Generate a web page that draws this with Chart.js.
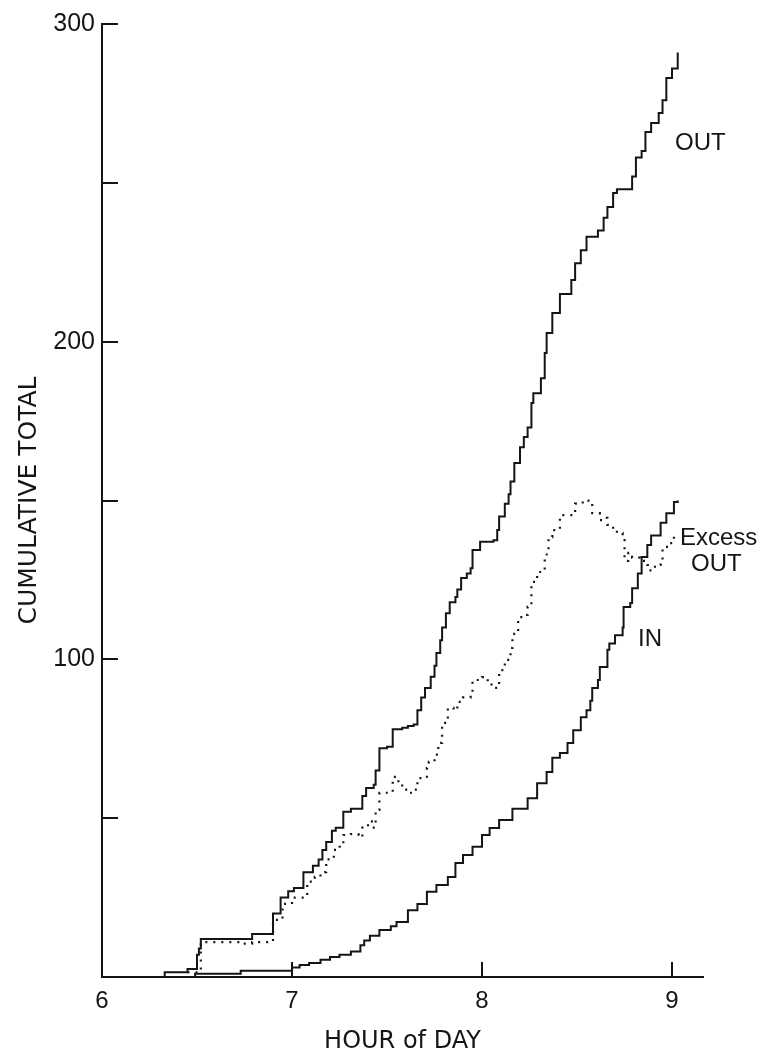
<!DOCTYPE html>
<html><head><meta charset="utf-8">
<script src="https://cdn.jsdelivr.net/npm/chart.js@4.4.0/dist/chart.umd.min.js"></script>
<style>html,body{margin:0;padding:0;background:#fff;}canvas{display:block;}</style>
</head><body>
<canvas id="c" width="764" height="1054"></canvas>
<script>
// ---- data (hour of day, cumulative total) ----
const xTickValues = [6, 7, 8, 9];
const xTickLabels = ['6', '7', '8', '9'];
const yTickValues = [100, 200, 300];
const yTickLabels = ['100', '200', '300'];
const yMinorTicks = [50, 100, 150, 200, 250, 300];

const outT = [6.00,6.33,6.45,6.50,6.51,6.52,6.79,6.90,6.94,6.98,7.01,7.06,7.11,7.14,7.16,7.18,7.21,7.23,7.27,7.31,7.37,7.39,7.43,7.44,7.46,7.50,7.53,7.58,7.61,7.64,7.66,7.68,7.70,7.73,7.75,7.76,7.78,7.79,7.81,7.83,7.86,7.87,7.89,7.92,7.94,7.95,7.99,8.06,8.08,8.09,8.12,8.14,8.15,8.17,8.20,8.22,8.24,8.26,8.27,8.31,8.33,8.34,8.37,8.41,8.47,8.49,8.52,8.55,8.61,8.64,8.66,8.69,8.71,8.79,8.81,8.84,8.86,8.89,8.93,8.95,8.97,9.00,9.03];
const outV = [0,1.5,2.5,7,9,12,13.5,20,25,27,28,33,35,37,40,42.5,46,47,52,53,57,59.5,60.5,65,72,72.5,78,78.5,79,79.5,84,88,91,94.5,98,102,106,110,114.5,118,119.6,122,125.6,127,128.7,134.4,137,137.5,140.7,145,149,152,156,161.8,166.8,170,173,180.7,183.8,188.5,196.4,202.7,209,215,219.4,224.7,228.8,233,235,239,242.4,246.8,248,252,258,260,266,268.8,272,276,283,286,291];

const inT = [6.00,6.49,6.73,7.00,7.04,7.09,7.15,7.20,7.25,7.31,7.36,7.38,7.41,7.46,7.52,7.55,7.61,7.66,7.71,7.76,7.82,7.86,7.90,7.95,8.00,8.04,8.09,8.16,8.24,8.29,8.34,8.37,8.41,8.45,8.48,8.52,8.55,8.57,8.58,8.61,8.62,8.66,8.67,8.70,8.74,8.745,8.78,8.79,8.82,8.84,8.87,8.89,8.94,8.97,9.01,9.03];
const inV = [0,1,2,3,3.8,4.4,5.4,6.3,7,8,10,11.5,13,14.8,16,17.3,21,23,26.8,29,31.5,35.9,38.4,41,44.7,46.9,49.4,53,56.3,61,64.5,69,70.5,73.7,77.7,81.8,84,87,91,93.5,97.6,103,105,107.6,110,116.5,117.7,122.4,127,132.2,136,139,143,146,149.5,150];

const excessT = [6.45,6.52,6.73,6.79,6.90,6.95,7.00,7.04,7.08,7.12,7.15,7.18,7.22,7.25,7.27,7.31,7.35,7.37,7.40,7.42,7.44,7.46,7.50,7.53,7.56,7.58,7.62,7.64,7.66,7.71,7.72,7.75,7.77,7.79,7.82,7.85,7.87,7.90,7.94,7.95,8.00,8.03,8.05,8.08,8.09,8.12,8.15,8.16,8.19,8.22,8.24,8.26,8.29,8.33,8.35,8.37,8.41,8.45,8.49,8.53,8.56,8.58,8.62,8.65,8.66,8.69,8.71,8.74,8.75,8.77,8.79,8.83,8.87,8.88,8.91,8.94,8.95,8.98,9.01];
const excessV = [1.5,11,10.5,11,18,23,25,25,30,31.5,33,37,40,41,44.7,45,44,47,49,47,52.6,58,58,63,61,59,58,59,62.6,65.8,67.7,70,73.7,80,84.7,84,86.6,88,89.7,93.5,94.4,92.5,91,92,96.6,99.8,103.6,108,113.3,114,116.5,124.4,127.5,133,138.5,140.7,145.4,145.4,149,150,149,146,143.8,144.5,142.3,140.7,139.7,137.5,131,133.5,132,131,129.7,128,129.7,131,135.4,136.6,140];

const curveLabels = [
  {text: 'OUT', t: 9.016, v: 262.5},
  {text: 'Excess', t: 9.042, v: 138},
  {text: 'OUT', t: 9.10, v: 130},
  {text: 'IN', t: 8.821, v: 106.4}
];

const toPts = (ts, vs) => ts.map((t, i) => ({x: t, y: vs[i]}));
const INK = '#151515';
const FONT = 'Liberation Sans';
const TITLE_FONT = 'DejaVu Sans';

const decor = {
  id: 'decor',
  afterDraw(chart) {
    const {ctx, chartArea, scales: {x, y}} = chart;
    ctx.save();
    ctx.strokeStyle = INK;
    ctx.lineWidth = 2;
    yMinorTicks.forEach(v => {
      const py = Math.round(y.getPixelForValue(v));
      ctx.beginPath(); ctx.moveTo(chartArea.left, py); ctx.lineTo(chartArea.left + 16, py); ctx.stroke();
    });
    xTickValues.slice(1).forEach(v => {
      const px = Math.round(x.getPixelForValue(v));
      ctx.beginPath(); ctx.moveTo(px, chartArea.bottom); ctx.lineTo(px, chartArea.bottom - 15); ctx.stroke();
    });
    ctx.fillStyle = INK;
    ctx.font = '24px "' + FONT + '"';
    ctx.textBaseline = 'middle';
    ctx.textAlign = 'left';
    curveLabels.forEach(l => ctx.fillText(l.text, x.getPixelForValue(l.t), y.getPixelForValue(l.v)));
    ctx.restore();
  }
};

new Chart(document.getElementById('c'), {
  type: 'line',
  data: {
    datasets: [
      {label: 'OUT', data: toPts(outT, outV), borderColor: INK, borderWidth: 2, stepped: 'before', pointRadius: 0, fill: false},
      {label: 'IN', data: toPts(inT, inV), borderColor: INK, borderWidth: 2, stepped: 'before', pointRadius: 0, fill: false},
      {label: 'Excess OUT', data: toPts(excessT, excessV), borderColor: INK, borderWidth: 2.2, borderDash: [2, 6], stepped: 'before', pointRadius: 0, fill: false}
    ]
  },
  options: {
    responsive: false,
    animation: false,
    devicePixelRatio: 1,
    layout: {padding: {top: 24, right: 61, left: 0, bottom: 0}},
    plugins: {legend: {display: false}, tooltip: {enabled: false}},
    scales: {
      x: {
        type: 'linear', min: 6, max: 9.163,
        afterFit(s) { s.height = 77; },
        grid: {display: false, drawTicks: false},
        border: {display: true, color: INK, width: 2},
        ticks: {stepSize: 1, includeBounds: false, padding: 10, color: INK, maxRotation: 0,
          font: {family: FONT, size: 24},
          callback: (v) => { const i = xTickValues.indexOf(v); return i >= 0 ? xTickLabels[i] : ''; }},
        title: {display: true, text: 'HOUR of DAY', color: INK, padding: {top: 0, bottom: 0},
          font: {family: TITLE_FONT, size: 24, lineHeight: 1}}
      },
      y: {
        type: 'linear', min: 0, max: 300,
        afterFit(s) { s.width = 102; },
        grid: {display: false, drawTicks: false},
        border: {display: true, color: INK, width: 2},
        ticks: {stepSize: 50, padding: 7, color: INK, font: {family: FONT, size: 25},
          callback: (v) => { const i = yTickValues.indexOf(v); return i >= 0 ? yTickLabels[i] : ''; }},
        title: {display: true, text: 'CUMULATIVE TOTAL', color: INK, padding: {top: 16, bottom: 0},
          font: {family: TITLE_FONT, size: 25, lineHeight: 1.1}}
      }
    }
  },
  plugins: [decor]
});
</script>
</body></html>
